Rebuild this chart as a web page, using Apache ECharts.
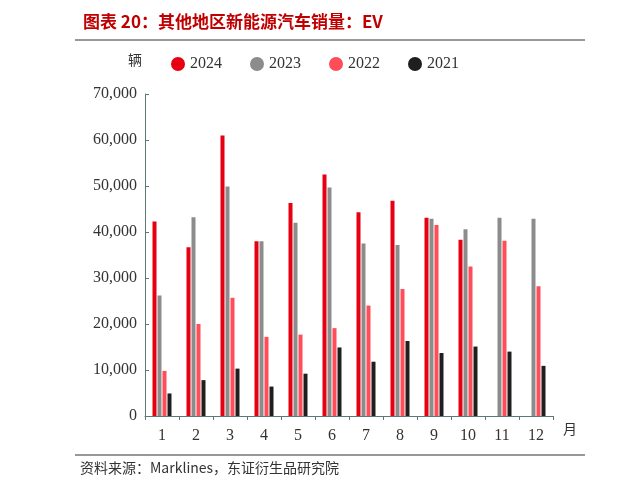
<!DOCTYPE html>
<html><head><meta charset="utf-8">
<script src="https://cdn.jsdelivr.net/npm/echarts@6/dist/echarts.min.js"></script>
<style>body{margin:0;background:#fff}#c{width:624px;height:492px}</style>
</head><body><div id="c"></div>
<script>
// 月份
const months = ['1','2','3','4','5','6','7','8','9','10','11','12'];
const y2024 = [42300, 36700, 61000, 38000, 46300, 52500, 44300, 46800, 43100, 38300, null, null];
const y2023 = [26200, 43200, 49900, 38000, 42000, 49700, 37500, 37200, 42900, 40600, 43100, 42900];
const y2022 = [9800, 20000, 25700, 17200, 17700, 19100, 24000, 27600, 41500, 32500, 38100, 28200];
const y2021 = [4900, 7800, 10300, 6400, 9200, 14900, 11800, 16300, 13700, 15100, 14000, 10900];
const colors = ['#e60012', '#8c8c8c', '#ff4d5a', '#1f1f1f'];

const chart = echarts.init(document.getElementById('c'));
const serif = 'Liberation Serif';
const mk = (name, data) => ({ name: name, type: 'bar', data: data, barWidth: 4, barGap: '25%' });
chart.setOption({
  color: colors,
  animation: false,
  title: {
    text: '图表 20：其他地区新能源汽车销量：EV',
    left: 78, top: 8,
    textStyle: { color: '#c00000', fontSize: 17, fontWeight: 'bold', fontFamily: 'Noto Sans CJK SC' }
  },
  legend: {
    top: 51, left: 166, itemWidth: 14, itemHeight: 14, itemGap: 28, icon: 'circle',
    textStyle: { fontFamily: serif, fontSize: 16, color: '#333' },
    data: ['2024', '2023', '2022', '2021']
  },
  grid: { left: 145, right: 71, top: 94, bottom: 76 },
  xAxis: {
    type: 'category', data: months,
    name: '月', nameLocation: 'end', nameGap: 10,
    nameTextStyle: { fontFamily: 'Noto Sans CJK SC', fontSize: 14, color: '#333', verticalAlign: 'top', padding: [6, 0, 0, 0] },
    axisLine: { lineStyle: { color: '#5a7a7a' } },
    axisTick: { show: true, length: 4, lineStyle: { color: '#5a7a7a' } },
    axisLabel: { fontFamily: serif, fontSize: 16, color: '#333', margin: 12 }
  },
  yAxis: {
    type: 'value', min: 0, max: 70000, interval: 10000,
    axisLine: { show: true, lineStyle: { color: '#5a7a7a' } },
    axisTick: { show: true, length: 4, inside: true, lineStyle: { color: '#5a7a7a' } },
    splitLine: { show: false },
    axisLabel: {
      fontFamily: serif, fontSize: 16, color: '#333', margin: 8,
      formatter: v => v.toLocaleString('en-US')
    }
  },
  series: [mk('2024', y2024), mk('2023', y2023), mk('2022', y2022), mk('2021', y2021)],
  graphic: [
    { type: 'line', shape: { x1: 75, y1: 40, x2: 585, y2: 40 }, style: { stroke: '#333', lineWidth: 1 } },
    { type: 'line', shape: { x1: 75, y1: 455, x2: 585, y2: 455 }, style: { stroke: '#333', lineWidth: 1 } },
    { type: 'text', left: 128, top: 53, style: { text: '辆', fontFamily: 'Noto Sans CJK SC', fontSize: 14, fill: '#333' } },
    { type: 'text', left: 80, top: 461, style: { text: '资料来源：Marklines，东证衍生品研究院', fontFamily: 'Noto Sans CJK SC', fontSize: 14, fill: '#333' } }
  ]
});
</script></body></html>
